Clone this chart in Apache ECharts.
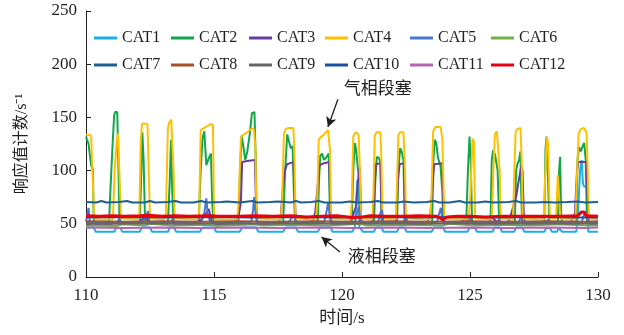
<!DOCTYPE html>
<html>
<head>
<meta charset="utf-8">
<script src="https://cdn.jsdelivr.net/npm/echarts@6/dist/echarts.min.js"></script>
<style>html,body{margin:0;padding:0;background:#fff}#c{width:624px;height:335px}</style>
</head>
<body>
<div id="c"></div>
<script>
const seriesNames = ['CAT1','CAT2','CAT3','CAT4','CAT5','CAT6','CAT7','CAT8','CAT9','CAT10','CAT11','CAT12'];
const xTitle = '时间/s';
const yTitle = '响应值计数/s⁻¹';
const gasLabel = '气相段塞';
const liquidLabel = '液相段塞';

const cat1 = [[110,46.5],[110.3,46.5],[110.38,42.5],[111.1,42.5],[111.18,46],[111.35,46],[111.42,42.5],[112.1,42.5],[112.18,46.5],[112.5,46.5],[112.58,42.5],[113.2,42.5],[113.28,46.5],[113.45,46.5],[113.52,42.5],[114.45,42.5],[114.55,46.5],[115.0,46.5],[115.08,42.5],[116.0,42.5],[116.1,46.5],[116.65,46.5],[116.73,42.5],[117.7,42.5],[117.8,46.5],[118.2,46.5],[118.28,42.5],[119.05,42.5],[119.15,46.5],[119.55,46.5],[119.63,42.5],[120.4,42.5],[120.5,47],[120.55,70],[120.6,91],[120.64,75],[120.68,47],[120.75,46.5],[120.82,42.5],[121.25,42.5],[121.32,46.5],[121.55,46.5],[121.62,42.5],[122.15,42.5],[122.22,46.5],[122.45,46.5],[122.52,42.5],[123.5,42.5],[123.6,46.5],[123.95,46.5],[124.03,42.5],[124.9,42.5],[124.98,46],[125.2,46],[125.27,42.5],[125.88,42.5],[125.95,46.5],[126.18,46.5],[126.25,42.5],[126.72,42.5],[126.8,46.5],[127.05,46.5],[127.12,42.5],[127.9,42.5],[127.98,46],[128.12,46],[128.2,42.5],[128.4,42.5],[128.46,46],[128.53,46],[128.6,42.5],[129.15,42.5],[129.22,60],[129.3,100],[129.36,110],[129.41,88],[129.46,85],[129.58,85],[129.62,42.5],[130,42.5]];

const cat2 = [[110,132],[110.1,125],[110.2,105],[110.27,101],[110.3,55],[110.35,50],[110.9,50],[110.95,80],[111.05,130],[111.1,152],[111.14,155],[111.22,155],[111.27,100],[111.31,50],[112.1,50],[112.15,90],[112.2,136],[112.25,110],[112.3,60],[112.35,50],[113.2,50],[113.27,90],[113.32,129],[113.37,80],[113.42,50],[114.4,50],[114.48,100],[114.55,130],[114.62,137],[114.7,105],[114.8,112],[114.88,116],[114.93,70],[114.98,50],[115.95,50],[116.02,100],[116.08,133],[116.15,122],[116.22,110],[116.3,118],[116.4,135],[116.48,154],[116.58,155],[116.63,110],[116.67,50],[117.7,50],[117.78,100],[117.86,134],[117.92,128],[118.0,121],[118.07,123],[118.12,80],[118.17,50],[119.05,50],[119.1,90],[119.15,114],[119.22,116],[119.3,110],[119.4,113],[119.48,116],[119.52,70],[119.56,50],[120.38,50],[120.44,100],[120.5,126],[120.55,120],[120.62,102],[120.68,90],[120.72,50],[121.25,50],[121.3,90],[121.36,113],[121.44,112],[121.5,108],[121.55,50],[122.15,50],[122.2,100],[122.27,121],[122.33,118],[122.4,110],[122.45,50],[123.52,50],[123.57,110],[123.62,129],[123.68,126],[123.75,112],[123.85,104],[123.92,80],[123.96,50],[124.85,50],[124.92,100],[124.98,132],[125.03,110],[125.08,50],[125.8,50],[125.85,110],[125.9,119],[125.98,115],[126.08,100],[126.14,50],[126.75,50],[126.8,100],[126.85,106],[126.92,110],[126.97,118],[127.0,80],[127.04,50],[127.9,50],[127.95,120],[127.99,132],[128.05,90],[128.1,50],[128.43,50],[128.48,100],[128.52,113],[128.56,60],[128.6,50],[129.15,50],[129.2,110],[129.26,122],[129.33,118],[129.4,123],[129.46,126],[129.52,110],[129.57,50],[130,50]];

const cat3 = [[110,51],[110.2,50],[110.5,50],[111.0,50],[111.3,52],[111.5,50],[112.0,50],[112.2,54],[112.35,57],[112.45,50],[113.0,50],[113.3,52],[113.5,50],[114.2,50],[114.5,54],[114.7,60],[114.8,64],[114.9,52],[115.1,50],[115.8,50],[115.95,56],[116.05,70],[116.1,108],[116.3,109],[116.6,110],[116.64,70],[116.68,50],[117.5,50],[117.6,55],[117.68,80],[117.75,98],[117.85,106],[118.1,108],[118.15,80],[118.2,50],[118.8,50],[118.95,60],[119.05,85],[119.12,105],[119.3,107],[119.5,108],[119.53,80],[119.57,50],[120.3,50],[120.45,60],[120.55,66],[120.62,90],[120.7,103],[120.74,60],[120.78,50],[121.2,52],[121.28,90],[121.33,106],[121.5,107],[121.55,60],[121.6,50],[122.1,52],[122.2,95],[122.25,106],[122.42,107],[122.47,60],[122.5,50],[123.3,50],[123.45,58],[123.55,90],[123.6,106],[123.92,107],[123.97,60],[124.0,50],[124.6,50],[124.8,55],[124.95,52],[125.2,50],[125.7,50],[125.85,56],[126.0,53],[126.4,50],[126.55,54],[126.65,63],[126.8,75],[126.9,90],[127.0,104],[127.05,100],[127.1,60],[127.15,50],[127.9,50],[128.0,53],[128.2,50],[128.9,50],[129.1,60],[129.18,100],[129.23,108],[129.55,108],[129.6,70],[129.65,50],[130,50]];

const cat4 = [[110,134],[110.2,133],[110.27,134],[110.32,55],[110.6,54],[111.05,54],[111.12,100],[111.2,128],[111.25,135],[111.31,135],[111.37,55],[112.0,54],[112.08,56],[112.14,130],[112.19,144],[112.4,144],[112.45,100],[112.5,55],[113.05,54],[113.12,60],[113.2,140],[113.25,145],[113.33,148],[113.38,147],[113.42,100],[113.46,55],[114.35,54],[114.42,60],[114.48,138],[114.6,140],[114.75,142],[114.9,144],[114.96,142],[115.0,60],[115.05,54],[115.9,54],[115.96,70],[116.05,130],[116.1,133],[116.3,136],[116.45,139],[116.56,139],[116.62,120],[116.66,55],[117.6,54],[117.66,70],[117.73,134],[117.8,139],[117.9,140],[118.1,140],[118.14,120],[118.18,55],[118.98,54],[119.03,70],[119.09,129],[119.15,131],[119.3,134],[119.45,138],[119.5,139],[119.53,120],[119.57,55],[120.33,54],[120.38,70],[120.44,132],[120.5,135],[120.58,136],[120.65,133],[120.7,100],[120.74,55],[121.18,54],[121.23,80],[121.28,133],[121.35,136],[121.5,136],[121.54,110],[121.58,55],[122.1,54],[122.14,80],[122.2,133],[122.27,136],[122.4,136],[122.45,110],[122.5,55],[123.45,54],[123.5,80],[123.56,137],[123.65,141],[123.85,141],[123.92,130],[123.97,80],[124.0,55],[124.95,54],[125.02,80],[125.1,130],[125.15,128],[125.2,55],[125.85,54],[125.9,90],[125.97,134],[126.05,137],[126.12,138],[126.16,100],[126.2,55],[126.68,54],[126.72,90],[126.78,136],[126.85,139],[126.97,140],[127.02,110],[127.06,55],[127.88,54],[127.93,90],[128.0,132],[128.05,125],[128.12,55],[128.36,55],[128.43,96],[128.47,80],[128.53,55],[129.12,54],[129.17,90],[129.24,134],[129.32,139],[129.45,140],[129.55,136],[129.6,100],[129.64,55],[130,54]];

const cat5 = [[110,52],[110.05,58],[110.1,65],[110.15,52],[110.5,51],[111.2,51],[111.3,55],[111.38,51],[112.2,51],[112.35,56],[112.42,62],[112.48,51],[113.3,51],[113.4,55],[113.46,51],[114.5,51],[114.62,60],[114.7,74],[114.75,60],[114.85,52],[115.5,51],[116.45,51],[116.52,62],[116.57,75],[116.62,60],[116.7,51],[117.9,51],[118.05,56],[118.12,58],[118.2,51],[119.3,51],[119.4,62],[119.46,70],[119.52,58],[119.6,51],[120.5,51],[120.6,62],[120.66,66],[120.72,51],[121.4,51],[121.5,60],[121.56,63],[121.62,51],[122.4,51],[122.5,58],[122.55,51],[123.7,51],[123.8,60],[123.86,65],[123.93,51],[124.9,51],[125.0,55],[125.08,51],[126.1,51],[126.15,54],[126.2,51],[126.9,51],[127.0,58],[127.06,51],[128.0,51],[128.05,54],[128.1,51],[129.35,51],[129.45,58],[129.52,62],[129.6,52],[130,51]];

const cat6 = [[110,48.5],[111.2,48],[111.4,49.5],[112.3,48.5],[112.5,50],[113.4,48.5],[114.8,49],[115.1,48],[116.6,49.5],[116.9,48.5],[118.1,49],[119.5,48.5],[120.7,50],[121.0,48.5],[122.4,49],[123.9,48.5],[124.2,50],[125.2,48.5],[126.5,49],[127.3,48.5],[128.5,49.5],[129.6,48.5],[130,48.5]];

const cat7 = [[110,70.5],[110.4,70],[110.6,71.5],[110.8,70],[111.3,70.5],[111.6,71.5],[111.8,70],[112.3,70],[112.5,71.5],[112.7,70],[113.2,70.5],[113.5,71.5],[113.7,70],[114.2,70],[114.5,71.5],[114.7,70],[115.3,70.5],[115.5,71],[116.0,70],[116.5,71.5],[116.7,70],[117.2,70.5],[117.5,71],[118.0,70],[118.2,71.5],[118.4,70],[118.8,70.5],[119.1,71.5],[119.3,70],[120.0,70],[120.3,71],[120.6,70],[121.1,70.5],[121.4,71.5],[121.6,70],[122.2,70],[122.4,71],[122.8,70],[123.3,70.5],[123.6,71.5],[123.8,70],[124.2,70],[124.6,71.5],[124.8,70],[125.3,70],[125.6,71],[125.9,70],[126.5,70.5],[126.8,71.5],[127.0,70],[127.6,70],[127.9,70.5],[128.3,70],[128.8,70.5],[129.2,71],[129.5,70],[130,70.5]];

const cat8 = [[110,52.5],[111.5,52],[113.0,52.5],[114.5,52],[116.0,52.5],[117.5,52],[119.0,52.5],[120.5,52],[122.0,52.5],[123.5,52],[125.0,52.5],[126.5,52],[128.0,52.5],[129.5,52],[130,52.5]];

const cat9 = [[110,50.5],[111.2,50],[112.6,50.5],[114.0,50],[115.6,50.5],[117.0,50],[118.4,50.5],[120.0,50],[121.4,50.5],[123.0,50],[124.6,50.5],[126.0,50],[127.6,50.5],[129.0,50],[130,50.5]];

const cat10 = [[110,56],[111.6,56.5],[113.2,56],[114.8,56.5],[116.4,56],[118.0,56.5],[119.6,56],[121.2,56.5],[122.8,56],[124.4,56.5],[126.0,56],[127.6,56.5],[129.2,56],[130,56]];

const cat11 = [[110,46.5],[111.5,46],[113.0,46.5],[114.5,46],[116.0,46.5],[117.5,46],[119.0,46.5],[120.5,46],[122.0,46.5],[123.5,46],[125.0,46.5],[126.5,46],[128.0,46.5],[129.5,46],[130,46.5]];

const cat12 = [[110,57.5],[110.5,57],[111.0,57.5],[111.5,57],[112.1,57.5],[112.4,58],[113.0,57],[113.5,57.5],[114.0,57],[114.8,57.5],[115.2,57],[116.0,57],[116.6,57.5],[117.3,57],[118.0,57.5],[118.6,56.5],[119.2,57],[119.8,57.5],[120.4,56],[120.8,56.5],[121.1,57.5],[121.6,57],[122.4,57],[123.0,57.5],[123.7,57],[123.95,54],[124.1,56.5],[124.5,57],[125.0,57],[125.6,56.5],[126.3,57],[127.0,57],[127.8,57],[128.6,57],[129.2,57.5],[129.35,61],[129.45,61],[129.55,57.5],[130,57]];

const allData = [cat1,cat2,cat3,cat4,cat5,cat6,cat7,cat8,cat9,cat10,cat11,cat12];
const colors = ['#1DAEE5','#12A54A','#6B3A9E','#FFC000','#4A78C8','#72B043','#1E5E90','#A5502A','#666666','#1B4FA0','#B563B5','#E60012'];

// annotation anchors in data units [time, count]
const gasArrow = [[119.84,167],[119.45,141]];
const gasText = [121.4,176];
const liquidArrow = [[119.92,23.5],[119.2,37.5]];
const liquidText = [121.55,18];

const FONT = '"Liberation Serif", "Noto Sans CJK SC", serif';
const INK = '#231f20';

const chart = echarts.init(document.getElementById('c'), null, {renderer:'canvas'});

const series = seriesNames.map((n,i) => ({
  name: n, type: 'line', data: allData[i], showSymbol: false, symbol: 'none',
  lineStyle: {width: i === 11 ? 3 : 2, color: colors[i]},
  itemStyle: {color: colors[i]}, z: 2 + i, silent: true
}));

series[6].markLine = {
  silent: true, symbol: ['none','arrow'], symbolSize: [8, 10], animation: false,
  label: {show: false},
  lineStyle: {color: INK, width: 1.3, type: 'solid'},
  data: [
    [{coord: gasArrow[0]}, {coord: gasArrow[1]}],
    [{coord: liquidArrow[0]}, {coord: liquidArrow[1]}]
  ]
};
series[6].markPoint = {
  silent: true, symbol: 'circle', symbolSize: 0, animation: false,
  label: {show: true, position: 'inside', color: INK, fontSize: 17, fontFamily: FONT,
          formatter: p => p.name},
  data: [
    {name: gasLabel, coord: gasText},
    {name: liquidLabel, coord: liquidText}
  ]
};

const legendCols = [[0,6],[1,7],[2,8],[3,9],[4,10],[5,11]];
const legendLefts = [89,166,244,320,405,486];
const legends = legendCols.map((c,k) => ({
  orient: 'vertical', left: legendLefts[k], top: 24, itemGap: 9,
  itemWidth: 23, itemHeight: 3, icon: 'rect', selectedMode: false,
  data: c.map(i => seriesNames[i]),
  textStyle: {fontFamily: FONT, fontSize: 16, color: INK, lineHeight: 18}
}));

chart.setOption({
  animation: false,
  backgroundColor: '#fff',
  grid: {left: 86, right: 26, top: 11, bottom: 58, containLabel: false},
  legend: legends,
  xAxis: {
    type: 'value', min: 110, max: 130, interval: 5,
    name: xTitle, nameLocation: 'middle', nameGap: 33,
    nameTextStyle: {fontFamily: FONT, fontSize: 17, color: INK},
    axisLine: {show: true, lineStyle: {color: INK, width: 1}},
    axisTick: {show: true, inside: true, length: 5, lineStyle: {color: INK}},
    axisLabel: {fontFamily: FONT, fontSize: 17, color: INK, margin: 10},
    splitLine: {show: false}
  },
  yAxis: {
    type: 'value', min: 0, max: 250, interval: 50,
    name: yTitle, nameLocation: 'middle', nameGap: 56, nameRotate: 90,
    nameTextStyle: {fontFamily: FONT, fontSize: 16, color: INK},
    axisLine: {show: true, lineStyle: {color: INK, width: 1}},
    axisTick: {show: true, inside: true, length: 5, lineStyle: {color: INK}},
    axisLabel: {fontFamily: FONT, fontSize: 17, color: INK, margin: 9},
    splitLine: {show: false}
  },
  series: series
});
</script>
</body>
</html>
